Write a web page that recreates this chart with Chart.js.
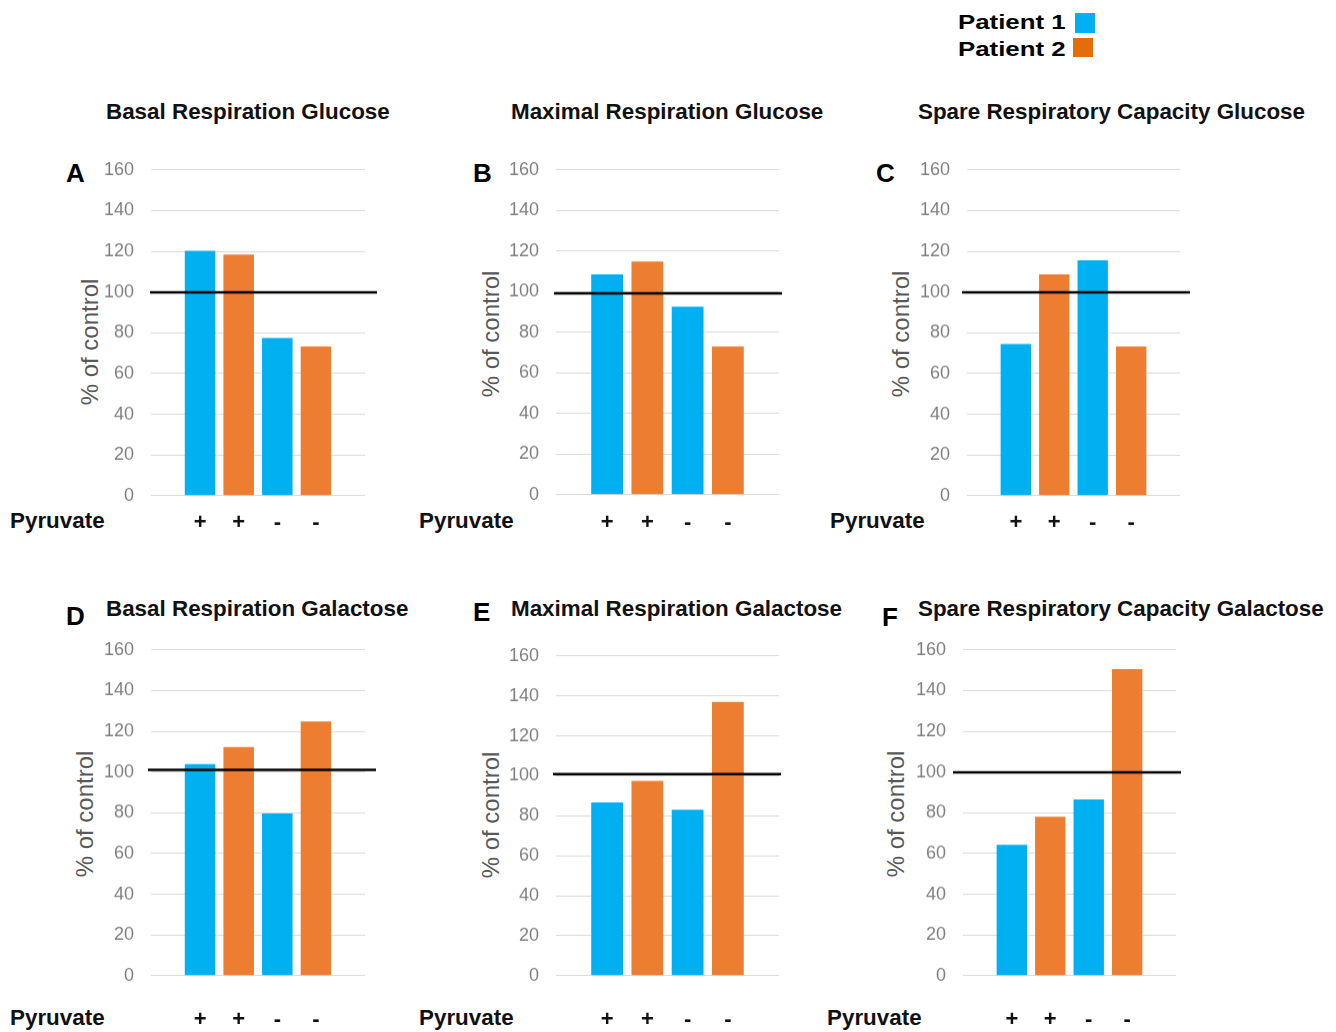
<!DOCTYPE html>
<html>
<head>
<meta charset="utf-8">
<script src="https://cdn.jsdelivr.net/npm/chart.js@4.4.1/dist/chart.umd.min.js"></script>
<style>
  body { margin: 0; background: #fff; font-family: "Liberation Sans", Arial, sans-serif; }
  #page { position: relative; width: 1336px; height: 1032px; overflow: hidden; }
  .abs { position: absolute; white-space: nowrap; line-height: 1; }
  .title { font-weight: bold; font-size: 22.4px; color: #111; transform: translateY(-50%); }
  .letter { font-weight: bold; font-size: 26px; color: #000; transform: translateY(-50%); }
  .pyr { font-weight: bold; font-size: 22.4px; color: #111; transform: translateY(-50%); }
  .ytitle { font-size: 24px; color: #595959; transform: translate(-50%, -50%) rotate(-90deg); }
  .legend { font-weight: bold; font-size: 21px; color: #000; transform-origin: left center; transform: translateY(-50%) scaleX(1.23); }
  .swatch { position: absolute; width: 20px; height: 20px; }
  canvas { position: absolute; }
</style>
</head>
<body>
<div id="page">
  <div class="abs legend" style="left:958px;top:21px">Patient 1</div>
  <div class="swatch" style="left:1075px;top:13px;background:#00b0f0"></div>
  <div class="abs legend" style="left:958px;top:48px">Patient 2</div>
  <div class="swatch" style="left:1073px;top:38px;height:19px;background:#e46c0a"></div>
</div>
<script>
const panelTitles = [
  'Basal Respiration Glucose',
  'Maximal Respiration Glucose',
  'Spare Respiratory Capacity Glucose',
  'Basal Respiration Galactose',
  'Maximal Respiration Galactose',
  'Spare Respiratory Capacity Galactose'
];
const panelLetters = ['A', 'B', 'C', 'D', 'E', 'F'];
const pyruvate = ['+', '+', '-', '-'];
// bars 1 and 3 are patient 1, bars 2 and 4 patient 2
const patient1 = [[120.3, 77.4], [108.6, 92.6], [74.5, 115.6], [103.9, 79.6], [86.7, 83.0], [64.3, 86.5]];
const patient2 = [[118.4, 73.2], [114.8, 73.0], [108.7, 73.2], [112.3, 124.8], [97.4, 136.9], [78.1, 150.6]];
const controlLevel = [99.8, 99.2, 99.8, 101.1, 100.9, 99.9];
const yMin = 0, yMax = 160, yStep = 20;

const BLUE = '#00b0f0';
const ORANGE = '#ed7d31';
const FONT = '"Liberation Sans", Arial, sans-serif';

// plot rectangles and text anchors, in page pixels
const layout = [
  { gL: 151, gR: 367, gT: 170, gB: 495, extL: 1, extR: 12, tickPad: 14, titleX: 106, titleY: 112, letterX: 66, letterY: 173, yTitleX: 90, yTitleY: 342, pyrX: 10, pyrY: 521 },
  { gL: 556, gR: 781, gT: 170, gB: 494, extL: 2, extR: 3, tickPad: 15, titleX: 511, titleY: 112, letterX: 473, letterY: 173, yTitleX: 491, yTitleY: 334, pyrX: 419, pyrY: 521 },
  { gL: 967, gR: 1182, gT: 170, gB: 495, extL: 5, extR: 10, tickPad: 14, titleX: 918, titleY: 112, letterX: 876, letterY: 173, yTitleX: 901, yTitleY: 334, pyrX: 830, pyrY: 521 },
  { gL: 151, gR: 367, gT: 650, gB: 975, extL: 3, extR: 11, tickPad: 31, titleX: 106, titleY: 609, letterX: 66, letterY: 616, yTitleX: 85, yTitleY: 814, pyrX: 10, pyrY: 1018 },
  { gL: 556, gR: 781, gT: 656, gB: 975, extL: 3, extR: 2, tickPad: 31, titleX: 511, titleY: 609, letterX: 473, letterY: 612, yTitleX: 491, yTitleY: 815, pyrX: 419, pyrY: 1018 },
  { gL: 963, gR: 1178, gT: 650, gB: 975, extL: 10, extR: 5, tickPad: 31, titleX: 918, titleY: 609, letterX: 882, letterY: 617, yTitleX: 896, yTitleY: 814, pyrX: 827, pyrY: 1018 }
];
const AXIS_W = 60, AXIS_H = 60, PAD_R = 18;

const controlLine = {
  id: 'controlLine',
  afterDatasetsDraw(chart, args, opts) {
    const { ctx, chartArea, scales } = chart;
    const py = scales.y.getPixelForValue(opts.value);
    ctx.save();
    ctx.strokeStyle = '#000';
    ctx.lineWidth = 2.5;
    ctx.beginPath();
    ctx.moveTo(chartArea.left - opts.extL, py);
    ctx.lineTo(chartArea.right + opts.extR, py);
    ctx.stroke();
    ctx.restore();
  }
};

const page = document.getElementById('page');

function addText(cls, text, x, y) {
  const el = document.createElement('div');
  el.className = 'abs ' + cls;
  el.textContent = text;
  el.style.left = x + 'px';
  el.style.top = y + 'px';
  page.appendChild(el);
}

panelTitles.forEach((title, i) => {
  const L = layout[i];
  addText('title', title, L.titleX, L.titleY);
  addText('letter', panelLetters[i], L.letterX, L.letterY);
  addText('pyr', 'Pyruvate', L.pyrX, L.pyrY);
  addText('ytitle', '% of control', L.yTitleX, L.yTitleY);

  const canvas = document.createElement('canvas');
  const w = L.gR - L.gL + AXIS_W + PAD_R;
  canvas.width = w;
  canvas.height = L.gB - L.gT + AXIS_H + 30;
  canvas.style.left = (L.gL - AXIS_W) + 'px';
  page.appendChild(canvas);

  const chart = new Chart(canvas, {
    type: 'bar',
    data: {
      datasets: [
        { label: 'Patient 1', data: patient1[i].map((v, k) => ({ x: 2 * k + 1, y: v })), backgroundColor: BLUE },
        { label: 'Patient 2', data: patient2[i].map((v, k) => ({ x: 2 * k + 2, y: v })), backgroundColor: ORANGE }
      ]
    },
    options: {
      responsive: false,
      animation: false,
      grouped: false,
      categoryPercentage: 1,
      barPercentage: 0.79,
      layout: { padding: { top: 0, right: PAD_R, left: 0, bottom: 0 } },
      plugins: {
        legend: { display: false },
        tooltip: { enabled: false },
        controlLine: { value: controlLevel[i], extL: L.extL, extR: L.extR }
      },
      scales: {
        x: {
          type: 'linear',
          offset: false,
          min: -0.27,
          max: 5.27,
          afterFit: (s) => { s.height = AXIS_H; },
          afterBuildTicks: (s) => { s.ticks = pyruvate.map((p, k) => ({ value: k + 1 })); },
          grid: { display: false, drawTicks: false },
          border: { display: false },
          ticks: {
            autoSkip: false,
            maxRotation: 0,
            padding: L.tickPad,
            color: '#111',
            font: { family: FONT, size: 22, weight: 'bold' },
            callback: (v) => pyruvate[v - 1] ?? ''
          }
        },
        y: {
          min: yMin,
          max: yMax,
          afterFit: (s) => { s.width = AXIS_W; },
          grid: { color: '#d9d9d9', lineWidth: 1, drawTicks: false },
          border: { display: false },
          ticks: {
            stepSize: yStep,
            padding: 17,
            color: '#7f7f7f',
            font: { family: FONT, size: 18 }
          }
        }
      }
    },
    plugins: [controlLine]
  });

  // fit the canvas so the plot area lands on the measured rectangle
  const top = chart.chartArea.top;
  chart.resize(w, L.gB - L.gT + top + AXIS_H);
  canvas.style.top = (L.gT - chart.chartArea.top) + 'px';
});
</script>
</body>
</html>
